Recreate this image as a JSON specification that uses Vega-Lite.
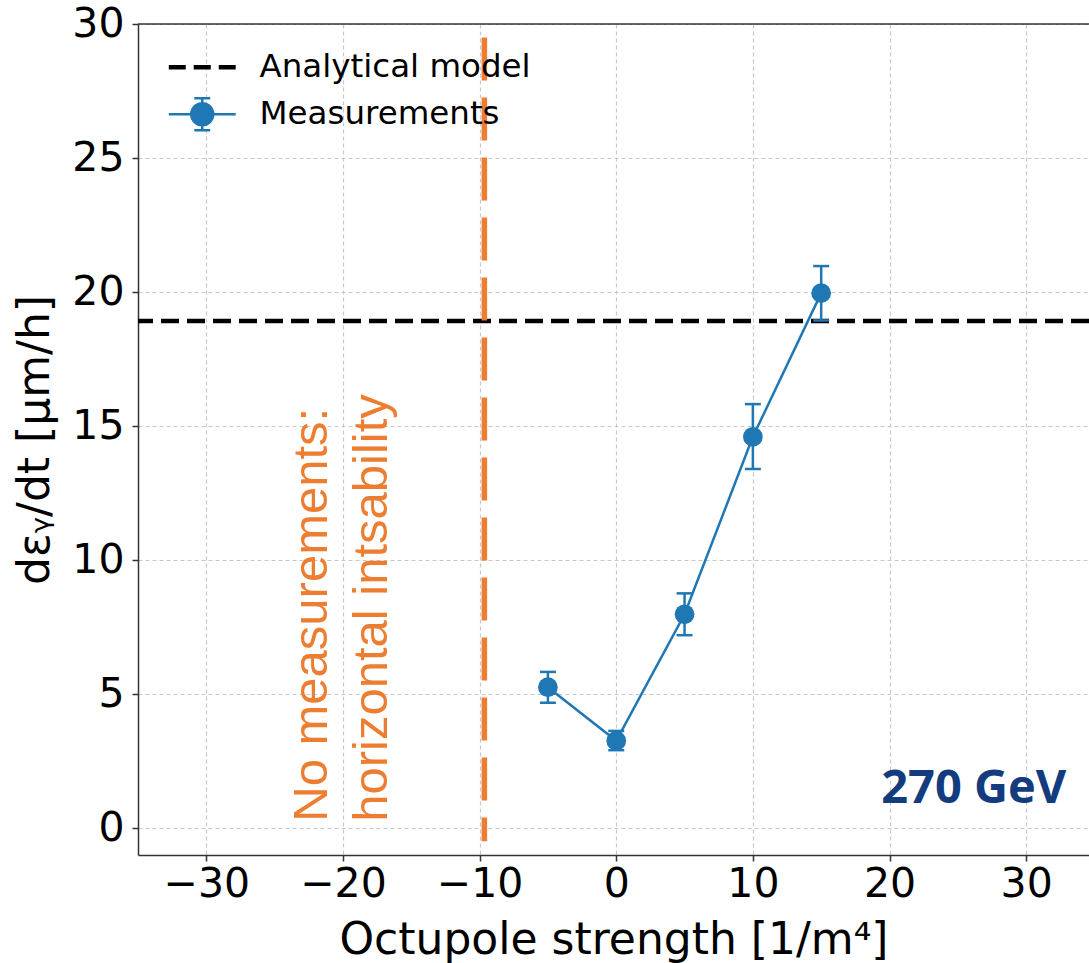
{
  "$schema": "https://vega.github.io/schema/vega-lite/v6.json",
  "width": 951,
  "height": 831,
  "autosize": {"type": "none"},
  "padding": {"left": 138, "top": 24, "right": 0, "bottom": 108},
  "background": "white",
  "config": {
    "view": {"stroke": null},
    "axis": {
      "labelFont": "DejaVu Sans",
      "titleFont": "DejaVu Sans",
      "labelFontSize": 41,
      "titleFontSize": 44,
      "titleFontWeight": "normal",
      "labelColor": "black",
      "titleColor": "black",
      "domainColor": "#333333",
      "domainWidth": 1.5,
      "tickColor": "#333333",
      "tickWidth": 1.5,
      "tickSize": 6,
      "grid": true,
      "gridColor": "#c8c8c8",
      "gridDash": [4, 3],
      "gridWidth": 1.2
    },
    "legend": {
      "orient": "none",
      "legendX": 48,
      "legendY": 27,
      "padding": 0,
      "labelFont": "DejaVu Sans",
      "labelFontSize": 32.5,
      "labelColor": "black",
      "labelLimit": 500,
      "labelOffset": 41,
      "symbolSize": 900,
      "rowPadding": 9
    }
  },
  "datasets": {
    "meas": [
      {"k": -5, "v": 5.26, "lo": 4.68, "hi": 5.83, "series": "Measurements"},
      {"k": 0, "v": 3.26, "lo": 2.91, "hi": 3.63, "series": "Measurements"},
      {"k": 5, "v": 7.98, "lo": 7.2, "hi": 8.76, "series": "Measurements"},
      {"k": 10, "v": 14.6, "lo": 13.4, "hi": 15.82, "series": "Measurements"},
      {"k": 15, "v": 19.96, "lo": 18.94, "hi": 20.97, "series": "Measurements"}
    ],
    "model": [{"series": "Analytical model", "v": 18.92}],
    "limit": [{"k": -9.65, "top": 29.5, "bottom": -0.49}],
    "energy": [{"k": 26.17, "v": 0.94, "label": "270 GeV"}],
    "note": [{"k": -21.2, "v": 0.24, "label": ["No measurements:", "horizontal intsability"]}]
  },
  "layer": [
    {
      "data": {"name": "model"},
      "mark": {"type": "rule", "strokeDash": [18, 8], "strokeWidth": 4.5},
      "encoding": {
        "y": {
          "field": "v",
          "type": "quantitative",
          "scale": {"domain": [-1, 30], "nice": false, "zero": false},
          "axis": {
            "title": "dεᵧ/dt [μm/h]",
            "values": [0, 5, 10, 15, 20, 25, 30],
            "labelPadding": 8,
            "titlePadding": 14
          }
        },
        "color": {
          "field": "series",
          "type": "nominal",
          "scale": {"domain": ["Analytical model", "Measurements"], "range": ["black", "#1f77b4"]},
          "legend": {
            "title": null,
            "encode": {
              "symbols": {
                "update": {
                  "shape": {"signal": "datum.value === 'Analytical model' ? 'M-2.23,0H-1.1M-0.57,0H0.57M1.1,0H2.23' : 'M-2.23,0H2.23M0,-1.07V1.07M-0.53,-1.07H0.53M-0.53,1.07H0.53M-0.73,0A0.73,0.73 0 1,1 0.73,0A0.73,0.73 0 1,1 -0.73,0Z'"},
                  "fill": {"signal": "datum.value === 'Measurements' ? '#1f77b4' : 'transparent'"},
                  "stroke": {"signal": "datum.value === 'Measurements' ? '#1f77b4' : 'black'"},
                  "strokeWidth": {"signal": "datum.value === 'Measurements' ? 2.5 : 4.5"},
                  "strokeDash": {"value": []},
                  "opacity": {"value": 1},
                  "fillOpacity": {"value": 1},
                  "strokeOpacity": {"value": 1}
                }
              }
            }
          }
        }
      }
    },
    {
      "data": {"name": "limit"},
      "mark": {"type": "rule", "color": "#ED7D31", "strokeDash": [43, 17], "strokeWidth": 5.5},
      "encoding": {
        "x": {
          "field": "k",
          "type": "quantitative",
          "scale": {"domain": [-35, 34.6], "nice": false, "zero": false},
          "axis": {
            "title": "Octupole strength [1/m⁴]",
            "values": [-30, -20, -10, 0, 10, 20, 30],
            "labelPadding": 3,
            "titlePadding": 14
          }
        },
        "y": {"field": "top", "type": "quantitative", "scale": {"domain": [-1, 30], "nice": false, "zero": false}},
        "y2": {"field": "bottom"}
      }
    },
    {
      "data": {"name": "meas"},
      "mark": {"type": "rule", "color": "#1f77b4", "strokeWidth": 2.5},
      "encoding": {
        "x": {"field": "k", "type": "quantitative", "scale": {"domain": [-35, 34.6], "nice": false, "zero": false}},
        "y": {"field": "lo", "type": "quantitative", "scale": {"domain": [-1, 30], "nice": false, "zero": false}},
        "y2": {"field": "hi"}
      }
    },
    {
      "data": {"name": "meas"},
      "mark": {"type": "tick", "orient": "horizontal", "color": "#1f77b4", "size": 16, "thickness": 2.5, "opacity": 1},
      "encoding": {
        "x": {"field": "k", "type": "quantitative", "scale": {"domain": [-35, 34.6], "nice": false, "zero": false}},
        "y": {"field": "lo", "type": "quantitative", "scale": {"domain": [-1, 30], "nice": false, "zero": false}}
      }
    },
    {
      "data": {"name": "meas"},
      "mark": {"type": "tick", "orient": "horizontal", "color": "#1f77b4", "size": 16, "thickness": 2.5, "opacity": 1},
      "encoding": {
        "x": {"field": "k", "type": "quantitative", "scale": {"domain": [-35, 34.6], "nice": false, "zero": false}},
        "y": {"field": "hi", "type": "quantitative", "scale": {"domain": [-1, 30], "nice": false, "zero": false}}
      }
    },
    {
      "data": {"name": "meas"},
      "mark": {"type": "line", "strokeWidth": 2.5},
      "encoding": {
        "x": {"field": "k", "type": "quantitative", "scale": {"domain": [-35, 34.6], "nice": false, "zero": false}},
        "y": {"field": "v", "type": "quantitative", "scale": {"domain": [-1, 30], "nice": false, "zero": false}},
        "color": {"field": "series", "type": "nominal"}
      }
    },
    {
      "data": {"name": "meas"},
      "mark": {"type": "point", "shape": "circle", "filled": true, "size": 390, "color": "#1f77b4", "opacity": 1},
      "encoding": {
        "x": {"field": "k", "type": "quantitative", "scale": {"domain": [-35, 34.6], "nice": false, "zero": false}},
        "y": {"field": "v", "type": "quantitative", "scale": {"domain": [-1, 30], "nice": false, "zero": false}}
      }
    },
    {
      "data": {"name": "energy"},
      "mark": {"type": "text", "font": "Open Sans", "fontWeight": "bold", "fontSize": 47, "color": "#133C7E", "align": "center", "baseline": "alphabetic"},
      "encoding": {
        "x": {"field": "k", "type": "quantitative", "scale": {"domain": [-35, 34.6], "nice": false, "zero": false}},
        "y": {"field": "v", "type": "quantitative", "scale": {"domain": [-1, 30], "nice": false, "zero": false}},
        "text": {"field": "label"}
      }
    },
    {
      "data": {"name": "note"},
      "mark": {"type": "text", "font": "Liberation Sans", "fontSize": 49, "color": "#ED7D31", "angle": 270, "align": "left", "baseline": "alphabetic", "lineHeight": 60},
      "encoding": {
        "x": {"field": "k", "type": "quantitative", "scale": {"domain": [-35, 34.6], "nice": false, "zero": false}},
        "y": {"field": "v", "type": "quantitative", "scale": {"domain": [-1, 30], "nice": false, "zero": false}},
        "text": {"field": "label"}
      }
    },
    {
      "data": {"values": [{"v": 30}]},
      "mark": {"type": "rule", "color": "#333333", "strokeWidth": 1.5},
      "encoding": {
        "y": {"field": "v", "type": "quantitative", "scale": {"domain": [-1, 30], "nice": false, "zero": false}}
      }
    }
  ]
}
